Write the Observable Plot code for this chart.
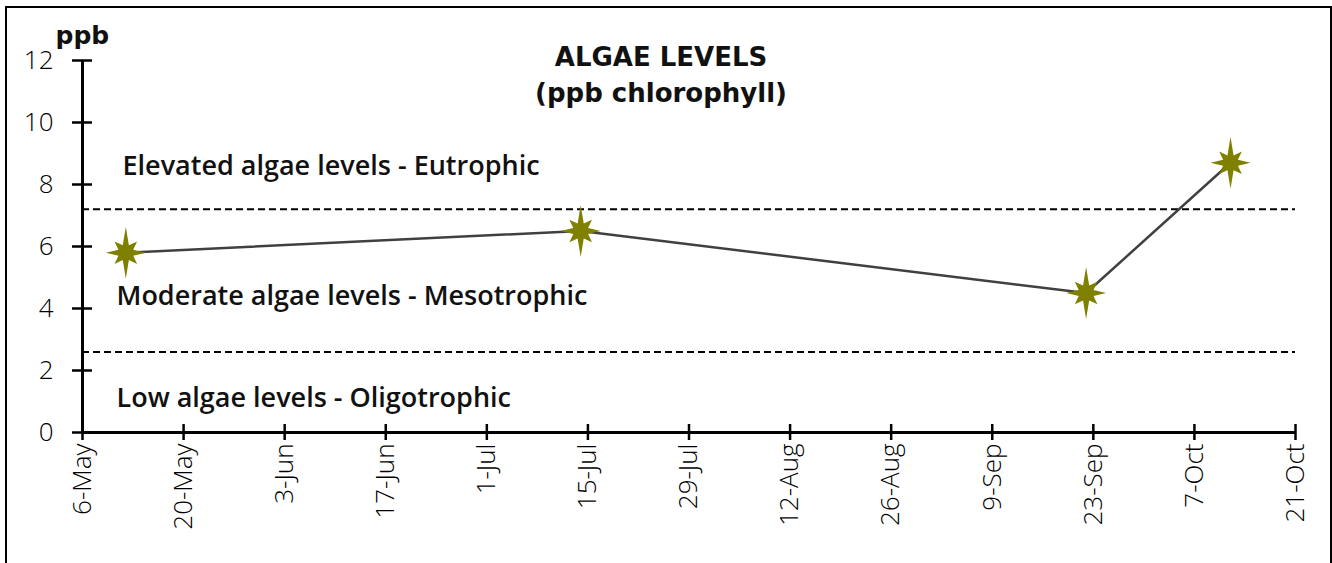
<!DOCTYPE html>
<html><head><meta charset="utf-8">
<script src="https://cdn.jsdelivr.net/npm/d3@7"></script>
<script src="https://cdn.jsdelivr.net/npm/@observablehq/plot@0.6"></script>
<style>
html,body{margin:0;padding:0;background:#fff;}
#wrap{position:relative;width:1332px;height:563px;overflow:hidden;}
#frame{position:absolute;left:5px;top:6px;width:1327px;height:620px;border:2px solid #000;box-sizing:border-box;}
#chart{position:absolute;left:0;top:0;}
</style></head><body>
<div id="wrap"><div id="frame"></div><div id="chart"></div></div>
<script>
// ---- data ----
const sampleDates = ["2021-05-12", "2021-07-14", "2021-09-22", "2021-10-12"];
const chlorophyll = [5.8, 6.5, 4.5, 8.7];
const tickDates = ["2021-05-06","2021-05-20","2021-06-03","2021-06-17","2021-07-01","2021-07-15","2021-07-29","2021-08-12","2021-08-26","2021-09-09","2021-09-23","2021-10-07","2021-10-21"];
const tickLabels = ["6-May","20-May","3-Jun","17-Jun","1-Jul","15-Jul","29-Jul","12-Aug","26-Aug","9-Sep","23-Sep","7-Oct","21-Oct"];
const yTicks = [0, 2, 4, 6, 8, 10, 12];
const thresholds = [7.2, 2.6];
const zoneLabels = ["Elevated algae levels - Eutrophic", "Moderate algae levels - Mesotrophic", "Low algae levels - Oligotrophic"];
const zoneY = [8.6, 4.4, 1.1];
const titleLines = ["ALGAE LEVELS", "(ppb chlorophyll)"];
const yUnit = "ppb";

const parse = d3.utcParse("%Y-%m-%d");
const points = sampleDates.map((d, i) => ({date: parse(d), value: chlorophyll[i]}));
const ticks = tickDates.map(parse);
const labelOf = new Map(ticks.map((t, i) => [+t, tickLabels[i]]));

const FONT = "'Open Sans', 'DejaVu Sans', sans-serif";
const BOLD = "'DejaVu Sans', 'Open Sans', sans-serif";

const star = {
  draw(ctx) {
    const outer = [26, 16, 20, 16, 26, 16, 20, 16];
    const inner = 8;
    for (let i = 0; i < 8; i++) {
      const a = i * Math.PI / 4;
      const b = a + Math.PI / 8;
      const ox = Math.sin(a) * outer[i], oy = -Math.cos(a) * outer[i];
      const ix = Math.sin(b) * inner, iy = -Math.cos(b) * inner;
      if (i === 0) ctx.moveTo(ox, oy); else ctx.lineTo(ox, oy);
      ctx.lineTo(ix, iy);
    }
    ctx.closePath();
  }
};

const chart = Plot.plot({
  width: 1332,
  height: 563,
  marginLeft: 82,
  marginRight: 37,
  marginTop: 60,
  marginBottom: 131,
  style: {fontFamily: FONT, background: "transparent", overflow: "visible"},
  x: {type: "utc", domain: [ticks[0], ticks[ticks.length - 1]]},
  y: {domain: [0, 12]},
  marks: [
    Plot.ruleY(thresholds, {stroke: "#000", strokeWidth: 2, strokeDasharray: "7,4"}),
    Plot.ruleY([0], {stroke: "#000", strokeWidth: 3}),
    Plot.ruleX([ticks[0]], {stroke: "#000", strokeWidth: 3}),
    Plot.axisX({ticks, tickSize: 16, dy: -8, strokeWidth: 2.5, text: null, label: null}),
    Plot.axisX({ticks, tickSize: 0, tickPadding: 11, tickRotate: -90, tickFormat: d => labelOf.get(+d),
      fontSize: 26, fontWeight: 300, fill: "#000", label: null}),
    Plot.axisY({ticks: yTicks, tickSize: 20, dx: 10, strokeWidth: 2.5, text: null, label: null}),
    Plot.axisY({ticks: yTicks, tickSize: 0, tickPadding: 29, fontSize: 26, fontWeight: 300, fill: "#000", label: null}),
    Plot.line(points, {x: "date", y: "value", stroke: "#404040", strokeWidth: 2.5}),
    Plot.dot(points, {x: "date", y: "value", symbol: star, r: 10, fill: "#808000", stroke: "none"}),
    ...zoneLabels.map((t, i) => Plot.text([t], {y: [zoneY[i]], frameAnchor: "left", dx: i === 0 ? 40 : 34,
      textAnchor: "start", fontSize: 27, fontWeight: 600, fill: "#111"})),
    Plot.text([titleLines[0]], {frameAnchor: "top", lineAnchor: "middle", dx: -28, dy: -3, fontFamily: BOLD, fontSize: 26, fontWeight: 700, fill: "#111"}),
    Plot.text([titleLines[1]], {frameAnchor: "top", lineAnchor: "middle", dx: -28, dy: 33, fontFamily: BOLD, fontSize: 26, fontWeight: 700, fill: "#111"}),
    Plot.text([yUnit], {frameAnchor: "top-left", lineAnchor: "middle", dx: -27, dy: -25, textAnchor: "start", fontFamily: BOLD, fontSize: 25, fontWeight: 700, fill: "#111"})
  ]
});
document.getElementById("chart").appendChild(chart);
</script>
</body></html>
